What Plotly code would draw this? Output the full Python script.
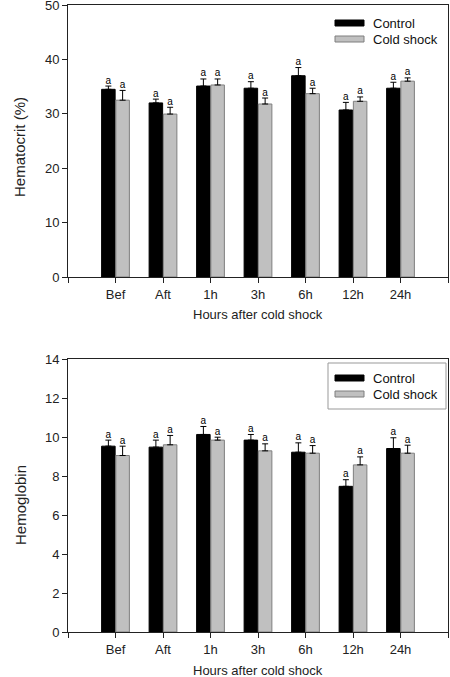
import plotly.graph_objects as go

times = ['Bef', 'Aft', '1h', '3h', '6h', '12h', '24h']
xpos = [1, 2, 3, 4, 5, 6, 7]

# hematocrit (%)
hct_control = [34.5, 32.0, 35.1, 34.7, 37.0, 30.7, 34.7]
hct_control_err = [0.6, 0.7, 1.3, 1.2, 1.5, 1.4, 1.1]
hct_cold = [32.5, 29.95, 35.3, 31.8, 33.7, 32.3, 36.0]
hct_cold_err = [1.8, 1.25, 1.1, 1.1, 1.0, 0.8, 0.6]

# hemoglobin
hb_control = [9.53, 9.48, 10.13, 9.84, 9.22, 7.47, 9.41]
hb_control_err = [0.31, 0.36, 0.41, 0.29, 0.48, 0.34, 0.55]
hb_cold = [9.05, 9.6, 9.84, 9.29, 9.17, 8.57, 9.17]
hb_cold_err = [0.48, 0.48, 0.15, 0.36, 0.39, 0.41, 0.41]

sig_control = ['a'] * 7
sig_cold = ['a'] * 7

FONT = 'Liberation Sans, Arial, sans-serif'
BLACK = '#000000'
GREY = '#c0c0c0'
GREY_EDGE = '#7f7f7f'

fig = go.Figure()


def add_panel(ctrl, ctrl_err, cold, cold_err, xa, ya):
    fig.add_trace(go.Bar(
        x=xpos, y=ctrl, name='Control', xaxis=xa, yaxis=ya,
        marker=dict(color=BLACK, line=dict(color=BLACK, width=1)),
        error_y=dict(type='data', array=ctrl_err, arrayminus=[0] * 7,
                     symmetric=False, color=BLACK, thickness=1, width=3),
        offsetgroup='c', showlegend=False))
    fig.add_trace(go.Bar(
        x=xpos, y=cold, name='Cold shock', xaxis=xa, yaxis=ya,
        marker=dict(color=GREY, line=dict(color=GREY_EDGE, width=1)),
        error_y=dict(type='data', array=cold_err, arrayminus=[0] * 7,
                     symmetric=False, color=BLACK, thickness=1, width=3),
        offsetgroup='s', showlegend=False))
    # significance letters over the error bars
    fig.add_trace(go.Scatter(
        x=[v - 0.15 for v in xpos], y=[m + e for m, e in zip(ctrl, ctrl_err)],
        text=sig_control, mode='text', textposition='top center',
        textfont=dict(family=FONT, size=10, color=BLACK),
        xaxis=xa, yaxis=ya, showlegend=False, hoverinfo='skip'))
    fig.add_trace(go.Scatter(
        x=[v + 0.15 for v in xpos], y=[m + e for m, e in zip(cold, cold_err)],
        text=sig_cold, mode='text', textposition='top center',
        textfont=dict(family=FONT, size=10, color=BLACK),
        xaxis=xa, yaxis=ya, showlegend=False, hoverinfo='skip'))


add_panel(hct_control, hct_control_err, hct_cold, hct_cold_err, 'x', 'y')
add_panel(hb_control, hb_control_err, hb_cold, hb_cold_err, 'x2', 'y2')

xdom = [68 / 450, 448 / 450]
axis_common = dict(showline=True, linecolor='#222222', linewidth=1, mirror=True,
                   ticks='outside', ticklen=5, tickcolor='#222222',
                   showgrid=False, zeroline=False, automargin=False,
                   tickfont=dict(family=FONT, size=13, color='#222222'))
xcommon = dict(axis_common, range=[0, 8], tickvals=list(range(9)),
               ticktext=[''] + times + [''], domain=xdom)

fig.update_layout(
    width=450, height=677,
    margin=dict(l=0, r=0, t=0, b=0),
    paper_bgcolor='white', plot_bgcolor='white',
    barmode='group', bargap=0.4, bargroupgap=0.05,
    showlegend=False,
    xaxis=dict(xcommon, anchor='y'),
    yaxis=dict(axis_common, range=[0, 50], tickvals=[0, 10, 20, 30, 40, 50],
               ticklabeloverflow='allow',
               domain=[(677 - 277) / 677, (677 - 5) / 677], anchor='x'),
    xaxis2=dict(xcommon, anchor='y2'),
    yaxis2=dict(axis_common, range=[0, 14], tickvals=list(range(0, 15, 2)),
                ticklabeloverflow='allow',
                domain=[(677 - 632) / 677, (677 - 359) / 677], anchor='x2'),
)

# axis titles
def px_x(p):
    return p / 450


def px_y(p):
    return (677 - p) / 677


titles = [
    ('Hours after cold shock', px_x(258), px_y(314), 0, 13),
    ('Hours after cold shock', px_x(258), px_y(670), 0, 13),
    ('Hematocrit (%)', px_x(20), px_y(147), -90, 15),
    ('Hemoglobin', px_x(20), px_y(505), -90, 15),
]
for txt, x, y, ang, size in titles:
    fig.add_annotation(text=txt, x=x, y=y, xref='paper', yref='paper',
                       showarrow=False, textangle=ang, xanchor='center', yanchor='middle',
                       font=dict(family=FONT, size=size, color='#222222'))

# legends (drawn by hand to get the long flat swatches)
legend_rows = [('Control', BLACK, BLACK), ('Cold shock', GREY, GREY_EDGE)]
for top_px, boxed in [(23, False), (378, True)]:
    if boxed:
        fig.add_shape(type='rect', xref='paper', yref='paper',
                      x0=px_x(328), x1=px_x(446), y0=px_y(409), y1=px_y(363),
                      line=dict(color='#999999', width=1), fillcolor='white')
    for i, (lab, fill, edge) in enumerate(legend_rows):
        yc = top_px + i * 16
        fig.add_shape(type='rect', xref='paper', yref='paper',
                      x0=px_x(335), x1=px_x(364), y0=px_y(yc + 3), y1=px_y(yc - 3),
                      line=dict(color=edge, width=1), fillcolor=fill)
        fig.add_annotation(text=lab, x=px_x(371), y=px_y(yc), xref='paper', yref='paper',
                           showarrow=False, xanchor='left', yanchor='middle',
                           font=dict(family=FONT, size=13, color='#111111'))

# pin the graph to the window corner so the page is exactly the figure
pin = ("document.body.style.margin='0';"
       "document.body.style.overflow='hidden';"
       "var d=document.getElementById('{plot_id}');"
       "d.style.position='fixed';d.style.top='0';d.style.left='0';")
fig.write_html("out.html", post_script=pin, config={'displayModeBar': False})
